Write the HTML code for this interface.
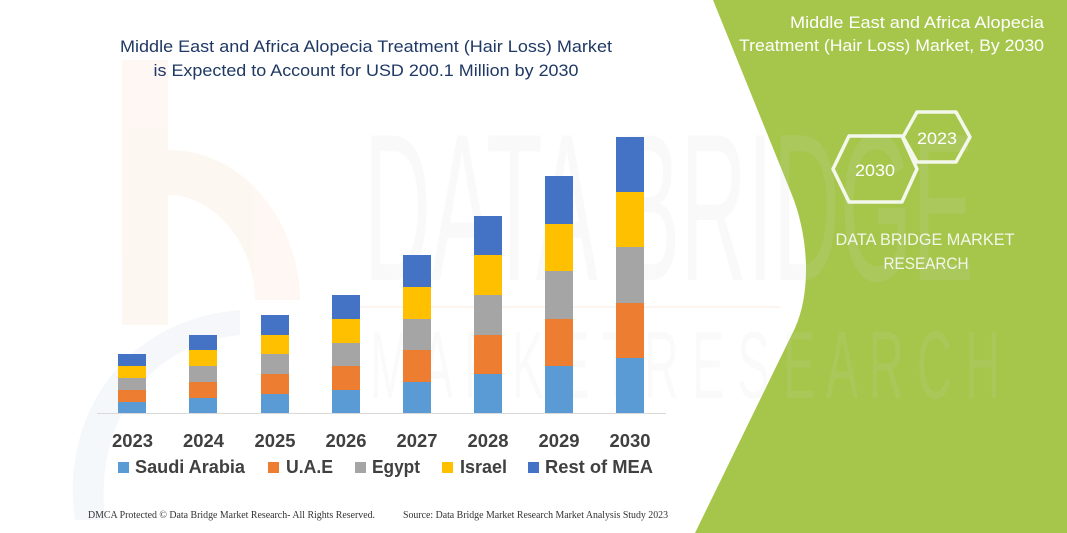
<!DOCTYPE html>
<html>
<head>
<meta charset="utf-8">
<style>
  html, body { margin: 0; padding: 0; background: #ffffff; }
  body { width: 1067px; height: 533px; overflow: hidden; }
  svg { display: block; }
</style>
</head>
<body>
<svg width="1067" height="533" viewBox="0 0 1067 533" xmlns="http://www.w3.org/2000/svg">
  <rect x="0" y="0" width="1067" height="533" fill="#ffffff"/>

  <!-- faint logo watermark (left) -->
  <g opacity="0.35">
    <rect x="122" y="60" width="46" height="265" fill="#fbe9dc"/>
    <path d="M168,150 C250,150 300,230 300,300 L255,300 C255,245 215,195 168,195 Z" fill="#fbe9dc"/>
    <path d="M75,520 C60,420 120,320 240,310 L240,335 C140,345 95,430 105,520 Z" fill="#e3eaf4"/>
  </g>

  <!-- green right panel -->
  <path d="M713,0 L792,195 C808,235 812,290 795,328 L695,533 L1067,533 L1067,0 Z" fill="#a5c64b"/>

  <!-- large faint watermark text -->
  <text x="364" y="280" font-family="Liberation Sans, sans-serif" font-size="210" fill="#d8d8d8" opacity="0.13" textLength="610" lengthAdjust="spacingAndGlyphs">DATA BRIDGE</text>
  <text x="370" y="398" font-family="Liberation Sans, sans-serif" font-size="96" fill="#d8d8d8" opacity="0.1" textLength="630" lengthAdjust="spacingAndGlyphs">M A R K E T R E S E A R C H</text>
  <line x1="350" y1="307" x2="780" y2="307" stroke="#f6e2d4" stroke-width="2" opacity="0.35"/>

  <!-- main title -->
  <g font-family="Liberation Sans, sans-serif" font-size="17" fill="#1f3864" text-anchor="middle">
    <text x="366" y="52" textLength="492" lengthAdjust="spacingAndGlyphs">Middle East and Africa Alopecia Treatment (Hair Loss) Market</text>
    <text x="366" y="76" textLength="425" lengthAdjust="spacingAndGlyphs">is Expected to Account for USD 200.1 Million by 2030</text>
  </g>

  <!-- axis line -->
  <line x1="97" y1="413.5" x2="666" y2="413.5" stroke="#d9d9d9" stroke-width="1"/>

  <!-- bars -->
  <g>
    <!-- 2023 -->
    <rect x="118" y="402" width="28" height="11" fill="#5b9bd5"/>
    <rect x="118" y="390" width="28" height="12" fill="#ed7d31"/>
    <rect x="118" y="378" width="28" height="12" fill="#a5a5a5"/>
    <rect x="118" y="366" width="28" height="12" fill="#ffc000"/>
    <rect x="118" y="354" width="28" height="12" fill="#4472c4"/>
    <!-- 2024 -->
    <rect x="189" y="398" width="28" height="15" fill="#5b9bd5"/>
    <rect x="189" y="382" width="28" height="16" fill="#ed7d31"/>
    <rect x="189" y="366" width="28" height="16" fill="#a5a5a5"/>
    <rect x="189" y="350" width="28" height="16" fill="#ffc000"/>
    <rect x="189" y="335" width="28" height="15" fill="#4472c4"/>
    <!-- 2025 -->
    <rect x="261" y="394" width="28" height="19" fill="#5b9bd5"/>
    <rect x="261" y="374" width="28" height="20" fill="#ed7d31"/>
    <rect x="261" y="354" width="28" height="20" fill="#a5a5a5"/>
    <rect x="261" y="335" width="28" height="19" fill="#ffc000"/>
    <rect x="261" y="315" width="28" height="20" fill="#4472c4"/>
    <!-- 2026 -->
    <rect x="332" y="390" width="28" height="23" fill="#5b9bd5"/>
    <rect x="332" y="366" width="28" height="24" fill="#ed7d31"/>
    <rect x="332" y="343" width="28" height="23" fill="#a5a5a5"/>
    <rect x="332" y="319" width="28" height="24" fill="#ffc000"/>
    <rect x="332" y="295" width="28" height="24" fill="#4472c4"/>
    <!-- 2027 -->
    <rect x="403" y="382" width="28" height="31" fill="#5b9bd5"/>
    <rect x="403" y="350" width="28" height="32" fill="#ed7d31"/>
    <rect x="403" y="319" width="28" height="31" fill="#a5a5a5"/>
    <rect x="403" y="287" width="28" height="32" fill="#ffc000"/>
    <rect x="403" y="255" width="28" height="32" fill="#4472c4"/>
    <!-- 2028 -->
    <rect x="474" y="374" width="28" height="39" fill="#5b9bd5"/>
    <rect x="474" y="335" width="28" height="39" fill="#ed7d31"/>
    <rect x="474" y="295" width="28" height="40" fill="#a5a5a5"/>
    <rect x="474" y="255" width="28" height="40" fill="#ffc000"/>
    <rect x="474" y="216" width="28" height="39" fill="#4472c4"/>
    <!-- 2029 -->
    <rect x="545" y="366" width="28" height="47" fill="#5b9bd5"/>
    <rect x="545" y="319" width="28" height="47" fill="#ed7d31"/>
    <rect x="545" y="271" width="28" height="48" fill="#a5a5a5"/>
    <rect x="545" y="224" width="28" height="47" fill="#ffc000"/>
    <rect x="545" y="176" width="28" height="48" fill="#4472c4"/>
    <!-- 2030 -->
    <rect x="616" y="358" width="28" height="55" fill="#5b9bd5"/>
    <rect x="616" y="303" width="28" height="55" fill="#ed7d31"/>
    <rect x="616" y="247" width="28" height="56" fill="#a5a5a5"/>
    <rect x="616" y="192" width="28" height="55" fill="#ffc000"/>
    <rect x="616" y="137" width="28" height="55" fill="#4472c4"/>
  </g>

  <!-- year labels -->
  <g font-family="Liberation Sans, sans-serif" font-size="18.5" font-weight="bold" fill="#404040" text-anchor="middle">
    <text x="132.5" y="447" textLength="41" lengthAdjust="spacingAndGlyphs">2023</text>
    <text x="203.5" y="447" textLength="41" lengthAdjust="spacingAndGlyphs">2024</text>
    <text x="275" y="447" textLength="41" lengthAdjust="spacingAndGlyphs">2025</text>
    <text x="346" y="447" textLength="41" lengthAdjust="spacingAndGlyphs">2026</text>
    <text x="417" y="447" textLength="41" lengthAdjust="spacingAndGlyphs">2027</text>
    <text x="488" y="447" textLength="41" lengthAdjust="spacingAndGlyphs">2028</text>
    <text x="559" y="447" textLength="41" lengthAdjust="spacingAndGlyphs">2029</text>
    <text x="630" y="447" textLength="41" lengthAdjust="spacingAndGlyphs">2030</text>
  </g>

  <!-- legend -->
  <g>
    <rect x="118" y="462" width="11" height="11" fill="#5b9bd5"/>
    <rect x="268" y="462" width="11" height="11" fill="#ed7d31"/>
    <rect x="355" y="462" width="11" height="11" fill="#a5a5a5"/>
    <rect x="442" y="462" width="11" height="11" fill="#ffc000"/>
    <rect x="528" y="462" width="11" height="11" fill="#4472c4"/>
  </g>
  <g font-family="Liberation Sans, sans-serif" font-size="18" font-weight="bold" fill="#404040">
    <text x="135" y="473" textLength="110" lengthAdjust="spacingAndGlyphs">Saudi Arabia</text>
    <text x="286" y="473" textLength="47" lengthAdjust="spacingAndGlyphs">U.A.E</text>
    <text x="372" y="473" textLength="48" lengthAdjust="spacingAndGlyphs">Egypt</text>
    <text x="460" y="473" textLength="47" lengthAdjust="spacingAndGlyphs">Israel</text>
    <text x="545" y="473" textLength="108" lengthAdjust="spacingAndGlyphs">Rest of MEA</text>
  </g>

  <!-- footer -->
  <g font-family="Liberation Serif, serif" font-size="10" fill="#333333">
    <text x="88" y="518" textLength="287" lengthAdjust="spacingAndGlyphs">DMCA Protected © Data Bridge Market Research-  All Rights Reserved.</text>
    <text x="403" y="518" textLength="265" lengthAdjust="spacingAndGlyphs">Source: Data Bridge Market Research  Market Analysis Study 2023</text>
  </g>

  <!-- right panel content -->
  <g font-family="Liberation Sans, sans-serif" font-size="17" fill="#ffffff" text-anchor="end">
    <text x="1044" y="28" textLength="254" lengthAdjust="spacingAndGlyphs">Middle East and Africa Alopecia</text>
    <text x="1044" y="51" textLength="305" lengthAdjust="spacingAndGlyphs">Treatment (Hair Loss) Market, By 2030</text>
  </g>

  <!-- hexagons -->
  <g fill="none" stroke="#f4f7ec" stroke-width="3.5" stroke-linejoin="round">
    <polygon points="903,137 917,112 956,112 970,137 956,162 917,162"/>
    <polygon points="833,169 849,136 902,136 917,169 902,202 849,202"/>
  </g>
  <g font-family="Liberation Sans, sans-serif" font-size="17" fill="#ffffff" text-anchor="middle">
    <text x="937" y="144" textLength="40" lengthAdjust="spacingAndGlyphs">2023</text>
    <text x="875" y="176" textLength="40" lengthAdjust="spacingAndGlyphs">2030</text>
  </g>
  <g font-family="Liberation Sans, sans-serif" font-size="16.5" fill="#f3f6ea" text-anchor="middle">
    <text x="925" y="245" textLength="179" lengthAdjust="spacingAndGlyphs">DATA BRIDGE MARKET</text>
    <text x="926" y="269" textLength="85" lengthAdjust="spacingAndGlyphs">RESEARCH</text>
  </g>
</svg>
</body>
</html>
